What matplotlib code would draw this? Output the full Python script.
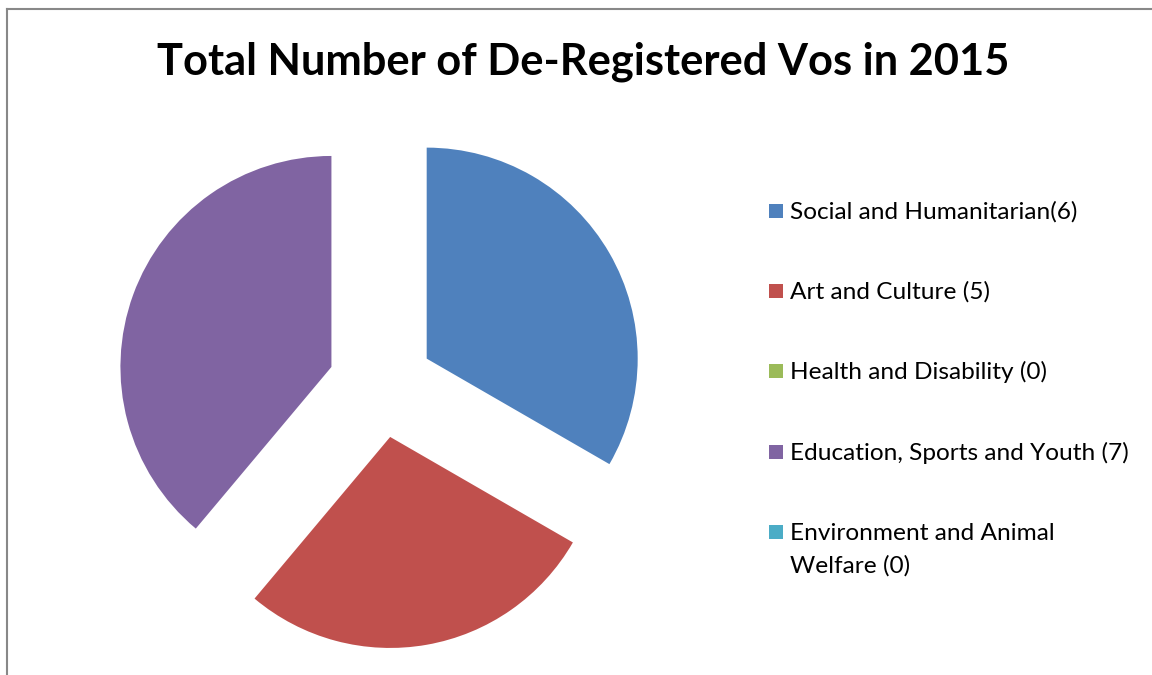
import matplotlib
matplotlib.use("Agg")
import matplotlib.pyplot as plt
from matplotlib.patches import Rectangle
from matplotlib.lines import Line2D

categories = ["Social and Humanitarian(6)", "Art and Culture (5)", "Health and Disability (0)",
              "Education, Sports and Youth (7)", "Environment and Animal\nWelfare (0)"]
values = [6, 5, 0, 7, 0]
colors = ["#4F81BD", "#C0504D", "#9BBB59", "#8064A2", "#4BACC6"]
title = "Total Number of De-Registered Vos in 2015"

W, H = 1152, 675
R = 211
fig = plt.figure(figsize=(W / 100, H / 100), dpi=100)
ax = fig.add_axes([0, 0, 1, 1])

ax.pie(values, colors=colors, startangle=90, counterclock=False,
       center=(381, H - 385), radius=R, explode=[0.25 * R] * len(values),
       wedgeprops=dict(linewidth=0, edgecolor="none"), frame=True)
ax.set_xlim(0, W)
ax.set_ylim(0, H)
ax.set_aspect("equal")
ax.axis("off")

# chart border (left and top visible)
ax.add_line(Line2D([7, 7], [-5, H - 9], color="#888888", linewidth=1.5))
ax.add_line(Line2D([7, W + 5], [H - 9, H - 9], color="#888888", linewidth=1.5))

ax.text(583, H - 62, title, ha="center", va="center", fontsize=31.2,
        fontweight="bold", family="Lato", color="black")

row_y = [210, 290, 370, 451, 531]
for i, (lab, c) in enumerate(zip(categories, colors)):
    y = H - row_y[i]
    ax.add_patch(Rectangle((769, y - 7.5), 14, 14, facecolor=c, edgecolor="none"))
    lines = lab.split("\n")
    for j, line in enumerate(lines):
        ax.text(790, y - 33 * j, line, ha="left", va="center_baseline", fontsize=17.6,
                family="Lato", color="black")

fig.savefig("out.png", dpi=100, facecolor="white")
